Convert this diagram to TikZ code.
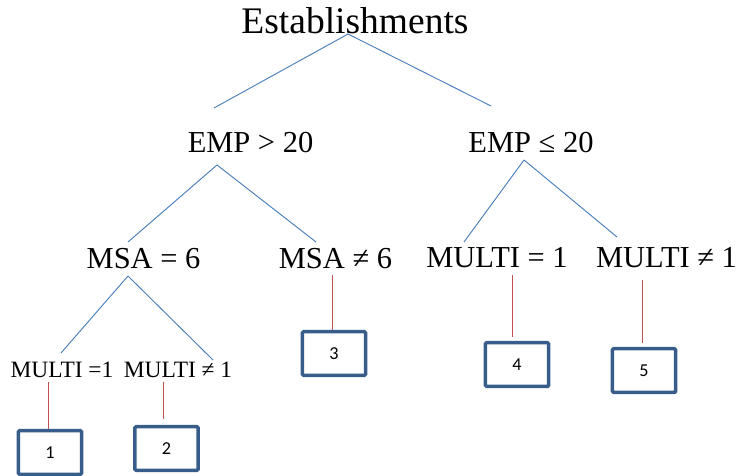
\documentclass[tikz,border=0pt]{standalone}
\usepackage{fontspec}
\setmainfont{Liberation Serif}
\newfontfamily\boxfont{Carlito}
\usepackage{tikz}
\usetikzlibrary{positioning}
\definecolor{branchblue}{HTML}{4A7EBB}
\definecolor{stemred}{HTML}{C0504D}
\definecolor{leafblue}{HTML}{385D8A}

\begin{document}
\begin{tikzpicture}[x=0.03cm,y=-0.03cm,
  title/.style={anchor=base,inner sep=0pt,font=\fontsize{32}{36}\selectfont},
  big/.style={anchor=base,inner sep=0pt,font=\fontsize{26}{30}\selectfont},
  small/.style={anchor=base,inner sep=0pt,font=\fontsize{20}{24}\selectfont},
  leaf/.style={draw=leafblue,line width=2.9pt,rounded corners=1pt,minimum width=1.9cm,minimum height=1.31cm,inner sep=0pt,font=\boxfont\fontsize{15.5}{18}\selectfont},
  branch/.style={draw=branchblue,line width=0.8pt},
  stem/.style={draw=stemred,line width=0.8pt}]
\useasboundingbox (0,0) rectangle (740,475);

\node[title] at (355,33) (estab) {Establishments};
\node[big] at (250.5,152) (empA) {EMP > 20};
\node[big] at (531,152) (empB) {EMP ≤ 20};
\node[big] at (143.5,268) (msaA) {MSA = 6};
\node[big] at (335.5,268) (msaB) {MSA ≠ 6};
\node[big] at (497,267) (multiA) {MULTI = 1};
\node[big] at (666.5,267) (multiB) {MULTI ≠ 1};
\node[small] at (62,377) (multiC) {MULTI =1};
\node[small] at (178,377) (multiD) {MULTI ≠ 1};

\node[leaf] at (50,452.5) (leafA) {1};
\node[leaf] at (166.5,448.5) (leafB) {2};
\node[leaf] at (334,353.5) (leafC) {3};
\node[leaf] at (517,364.5) (leafD) {4};
\node[leaf] at (644,370.5) (leafE) {5};

\coordinate (estabfork) at (348,34);
\coordinate (empAfork) at (217,165);
\coordinate (empBfork) at (524,160);
\coordinate (msaAfork) at (128,276);

\coordinate (empAtip) at (214,108);
\coordinate (empBtip) at (491,106);
\coordinate (msaAtip) at (128,242);
\coordinate (msaBtip) at (316,242);
\coordinate (multiAtip) at (464,242);
\coordinate (multiBtip) at (617,237);
\coordinate (multiCtip) at (61,353);
\coordinate (multiDtip) at (213,360);

\coordinate (stemA) at (48,382);
\coordinate (stemB) at (163,382);
\coordinate (stemC) at (332,275);
\coordinate (stemD) at (512,275);
\coordinate (stemE) at (642,280);

\draw[branch] (estabfork) -- (empAtip);
\draw[branch] (estabfork) -- (empBtip);
\draw[branch] (empAfork) -- (msaAtip);
\draw[branch] (empAfork) -- (msaBtip);
\draw[branch] (empBfork) -- (multiAtip);
\draw[branch] (empBfork) -- (multiBtip);
\draw[branch] (msaAfork) -- (multiCtip);
\draw[branch] (msaAfork) -- (multiDtip);

\draw[stem] (stemA) -- (stemA |- leafA.north);
\draw[stem,shorten >=5pt] (stemB) -- (stemB |- leafB.north);
\draw[stem] (stemC) -- (stemC |- leafC.north);
\draw[stem,shorten >=3pt] (stemD) -- (stemD |- leafD.north);
\draw[stem,shorten >=3pt] (stemE) -- (stemE |- leafE.north);

\end{tikzpicture}
\end{document}
